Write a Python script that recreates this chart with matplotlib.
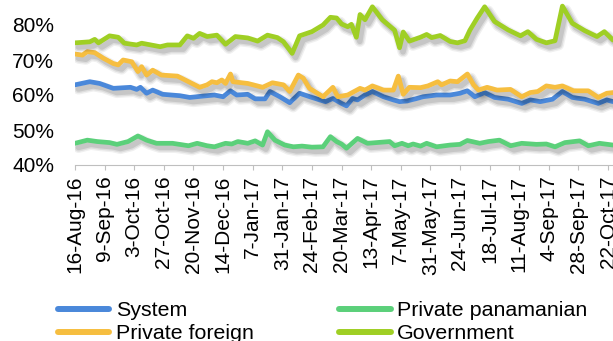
import numpy as np
import pandas as pd
import matplotlib
matplotlib.use("Agg")
import matplotlib.pyplot as plt
import matplotlib.patheffects as pe
from matplotlib.lines import Line2D

plt.rcParams['font.family'] = ['Liberation Sans', 'DejaVu Sans']

start = pd.Timestamp('2016-08-16')

# days since 16-Aug-16, share of deposits (%)
sys_days = [0, 12, 20, 31, 45, 50, 53, 58, 63, 71, 85, 93, 104, 113, 120, 126, 131, 140, 146, 154,
            158, 166, 174, 182, 192, 203, 209, 216, 220, 225, 229, 235, 241, 250, 258, 263, 269, 277, 282, 293,
            304, 312, 318, 324, 332, 340, 351, 362, 369, 377, 387, 395, 403, 413, 424, 431, 436]
system = [62.9, 63.8, 63.3, 61.9, 62.2, 61.6, 62.2, 60.5, 61.4, 60.2, 59.8, 59.3, 59.7, 60.0, 59.5, 61.2, 60.0, 60.2, 58.9, 58.9,
          61.0, 59.5, 57.8, 60.5, 59.3, 58.1, 59.0, 57.6, 56.9, 59.0, 58.6, 60.0, 61.0, 59.5, 58.6, 58.1, 58.3, 59.0, 59.5, 60.0,
          60.0, 60.5, 61.2, 59.5, 60.7, 59.3, 58.8, 57.6, 58.6, 58.1, 58.8, 61.0, 59.3, 58.8, 57.6, 58.6, 58.1]

pp_days = [0, 10, 18, 28, 34, 43, 51, 58, 66, 79, 92, 99, 107, 113, 122, 127, 132, 140, 146, 152,
           156, 162, 170, 177, 184, 192, 201, 207, 212, 216, 220, 229, 237, 255, 259, 265, 270, 274, 280, 285,
           293, 304, 312, 318, 328, 335, 344, 353, 362, 374, 382, 389, 397, 409, 416, 425, 436]
private_pan = [46.2, 47.1, 46.7, 46.4, 45.9, 46.7, 48.3, 47.1, 46.2, 46.2, 45.5, 46.2, 45.5, 45.2, 46.2, 46.0, 46.7, 46.2, 46.9, 45.7,
               49.5, 47.1, 45.7, 45.2, 45.4, 45.1, 45.2, 48.1, 46.7, 46.0, 44.8, 47.6, 46.2, 46.7, 45.5, 46.2, 45.5, 46.0, 45.4, 46.2,
               45.2, 45.7, 45.9, 47.0, 46.2, 46.7, 47.1, 45.5, 46.2, 45.9, 46.0, 45.2, 46.4, 46.9, 45.5, 46.2, 45.7]

pf_days = [0, 6, 10, 16, 23, 31, 35, 39, 46, 51, 54, 58, 63, 70, 83, 92, 101, 107, 111, 115,
           119, 122, 126, 128, 140, 152, 160, 169, 174, 181, 185, 190, 201, 209, 213, 221, 231, 235, 241, 250,
           258, 262, 266, 271, 280, 286, 294, 297, 304, 310, 318, 323, 327, 334, 342, 353, 362, 369, 375, 382,
           389, 395, 404, 416, 424, 431, 436]
private_for = [71.7, 71.4, 72.4, 72.1, 70.5, 69.0, 68.6, 70.0, 69.5, 66.7, 68.1, 65.7, 67.1, 65.7, 65.4, 63.8, 62.2, 62.9, 63.8, 63.5,
               64.3, 63.3, 66.0, 63.8, 63.3, 62.2, 63.5, 62.9, 61.0, 65.7, 64.8, 61.9, 59.5, 62.2, 59.5, 60.0, 61.9, 61.4, 62.6, 61.4,
               61.4, 65.4, 60.2, 62.2, 62.1, 62.6, 63.8, 62.9, 64.0, 63.8, 66.0, 62.9, 61.4, 62.2, 61.4, 61.6, 59.5, 60.7, 61.0, 62.6,
               62.2, 62.6, 61.2, 61.2, 59.3, 60.5, 60.7]

gov_days = [0, 12, 16, 19, 28, 35, 40, 50, 54, 69, 75, 85, 91, 96, 101, 107, 115, 122, 130, 140,
            148, 156, 164, 169, 176, 182, 192, 201, 207, 212, 216, 221, 224, 228, 231, 235, 241, 249, 254, 259,
            263, 266, 271, 280, 285, 289, 296, 304, 310, 316, 320, 326, 332, 340, 351, 361, 367, 374, 382, 389,
            395, 403, 413, 423, 429, 436]
government = [74.9, 75.2, 75.9, 74.9, 76.9, 76.5, 74.8, 74.3, 74.8, 73.8, 74.3, 74.3, 76.9, 76.2, 77.6, 76.7, 77.1, 74.5, 76.7, 76.3,
              75.4, 77.1, 76.4, 75.2, 71.9, 76.9, 78.1, 80.0, 82.2, 82.0, 80.3, 79.5, 80.2, 76.5, 83.0, 81.5, 85.2, 81.5, 80.0, 78.5,
              73.5, 78.0, 75.4, 76.5, 77.3, 76.4, 77.0, 75.3, 74.9, 75.5, 78.5, 82.0, 85.2, 81.0, 78.6, 76.9, 78.1, 75.9, 74.9, 75.5,
              85.4, 80.5, 78.4, 76.7, 78.1, 75.7]

names = ['System', 'Private panamanian', 'Private foreign', 'Government']
colors = ['#4A88DA', '#5BD07A', '#F6BE40', '#9FCF24']
series = [(sys_days, system), (pp_days, private_pan), (pf_days, private_for), (gov_days, government)]

fig = plt.figure(figsize=(6.13, 3.41), dpi=100)
ax = fig.add_axes([75 / 613, 176 / 341, 538 / 613, 165 / 341])

# soft drop shadow like the Excel original
shadow = [pe.SimpleLineShadow(offset=(2.5, -3), shadow_color='black', alpha=0.06, linewidth=8),
          pe.SimpleLineShadow(offset=(2.5, -3), shadow_color='black', alpha=0.08, linewidth=6),
          pe.SimpleLineShadow(offset=(2.5, -3), shadow_color='black', alpha=0.10, linewidth=4),
          pe.Normal()]

for (d, v), c in zip(series, colors):
    x = start + pd.to_timedelta(d, unit='D')
    ax.plot(x, v, color=c, lw=3.4, solid_joinstyle='round', solid_capstyle='round',
            path_effects=shadow)

ax.set_ylim(40, 40 + 165 / 3.5)
ax.set_xlim(start, start + pd.Timedelta(days=436))
ax.set_yticks([40, 50, 60, 70, 80])
ax.set_yticklabels([f'{t}%' for t in [40, 50, 60, 70, 80]])

ticks = [start + pd.Timedelta(days=24 * i) for i in range(19)]
ax.set_xticks(ticks)
ax.set_xticklabels([f"{t.day}-{t.strftime('%b-%y')}" for t in ticks], rotation=90)

for s in ['top', 'right', 'left']:
    ax.spines[s].set_visible(False)
ax.spines['bottom'].set_color('#BFBFBF')
ax.tick_params(axis='y', length=0, pad=15, labelsize=15)
ax.tick_params(axis='x', length=3.6, color='#BFBFBF', pad=4, labelsize=15)

handles = [Line2D([], [], color=colors[i], lw=4.3, solid_capstyle='round') for i in [0, 2, 1, 3]]
labels = [names[i] for i in [0, 2, 1, 3]]
fig.legend(handles, labels, ncol=2, loc='upper left', bbox_to_anchor=(58 / 613, 1 - 301 / 341),
           frameon=False, borderpad=0, borderaxespad=0, fontsize=15.4,
           handlelength=2.4, handletextpad=0.3, columnspacing=4.0, labelspacing=0.2)

fig.savefig('out.png', dpi=100)
